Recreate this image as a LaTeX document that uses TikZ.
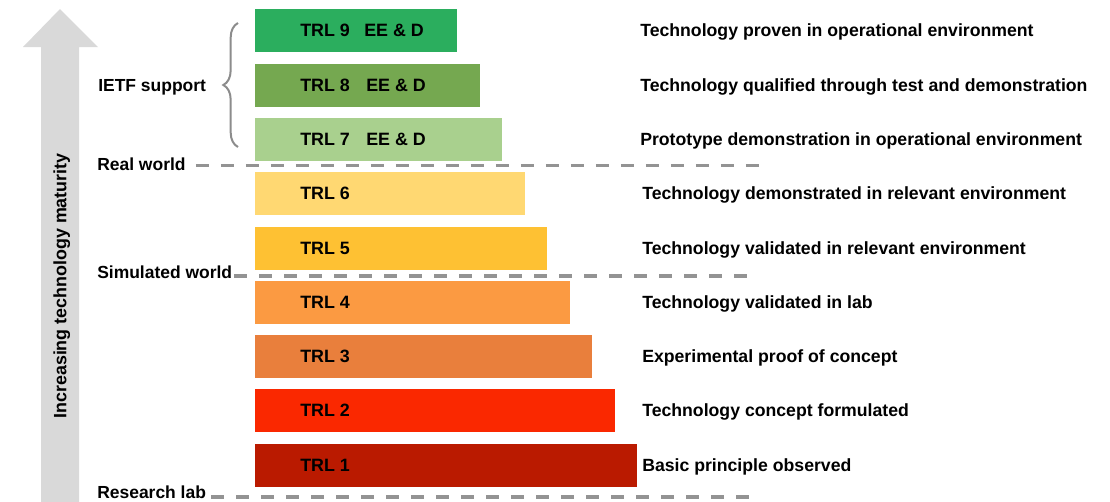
\documentclass[tikz,border=0pt]{standalone}
\usepackage{fontspec}
\setmainfont{Liberation Sans}
\usetikzlibrary{positioning}
\usetikzlibrary{decorations.pathreplacing}

\definecolor{trlNine}{HTML}{2BAE5E}
\definecolor{trlEight}{HTML}{75A850}
\definecolor{trlSeven}{HTML}{A9D08E}
\definecolor{trlSix}{HTML}{FFD872}
\definecolor{trlFive}{HTML}{FEC133}
\definecolor{trlFour}{HTML}{FB9A42}
\definecolor{trlThree}{HTML}{E97F3C}
\definecolor{trlTwo}{HTML}{FA2800}
\definecolor{trlOne}{HTML}{BA1A00}
\definecolor{arrowGray}{HTML}{D9D9D9}
\definecolor{lineGray}{HTML}{939393}
\definecolor{braceGray}{HTML}{8C8C8C}

\begin{document}
\begin{tikzpicture}[x = 0.75pt, y = -0.75pt]
	\tikzstyle{barStyle} = [anchor = west, minimum height = 32.25pt, inner sep = 0pt]
	\tikzstyle{trlStyle} = [anchor = west, inner sep = 0pt, text height = 9.5pt, text depth = 0pt, font = \bfseries\fontsize{13.4}{15}\selectfont]
	\tikzstyle{descStyle} = [anchor = west, inner sep = 0pt, text height = 9.4pt, text depth = 0pt, font = \bfseries\fontsize{13.25}{15}\selectfont]
	\tikzstyle{sideStyle} = [anchor = west, inner sep = 0pt, text height = 9.4pt, text depth = 0pt, font = \bfseries\fontsize{13.1}{15}\selectfont]
	\tikzstyle{worldLine} = [draw = lineGray, line width = 2.4pt, dash pattern = on 9.75pt off 9pt]
	\tikzstyle{braceStyle} = [draw = braceGray, line width = 1.5pt, decorate, decoration = {brace, amplitude = 11pt}]
	\useasboundingbox (0, 0) rectangle (1110, 501);
	% maturity arrow
	\fill[arrowGray] (41, 510) -- (41, 47) -- (23, 47) -- (60, 9) -- (98, 47) -- (79, 47) -- (79, 510) -- cycle;
	\node[sideStyle, anchor = center, rotate = 90, font = \bfseries\fontsize{13.4}{15}\selectfont] (maturity) at (60, 286) {Increasing technology maturity};
	% bars
	\node[barStyle, fill = trlNine, minimum width = 151.5pt] (bar9) at (255, 30.5) {};
	\node[barStyle, fill = trlEight, minimum width = 168.75pt] (bar8) at (255, 85) {};
	\node[barStyle, fill = trlSeven, minimum width = 185.25pt] (bar7) at (255, 139) {};
	\node[barStyle, fill = trlSix, minimum width = 202.5pt] (bar6) at (255, 193.5) {};
	\node[barStyle, fill = trlFive, minimum width = 219pt] (bar5) at (255, 248.5) {};
	\node[barStyle, fill = trlFour, minimum width = 236.25pt] (bar4) at (255, 302) {};
	\node[barStyle, fill = trlThree, minimum width = 252.75pt] (bar3) at (255, 356.5) {};
	\node[barStyle, fill = trlTwo, minimum width = 270pt] (bar2) at (255, 410.5) {};
	\node[barStyle, fill = trlOne, minimum width = 286.5pt] (bar1) at (255, 465) {};
	% bar labels
	\node[trlStyle] (trl9) at (300, 30.5) {TRL 9};
	\node[trlStyle] (eed9) at (364, 30.5) {EE \& D};
	\node[trlStyle] (trl8) at (300, 85) {TRL 8};
	\node[trlStyle] (eed8) at (366, 85) {EE \& D};
	\node[trlStyle] (trl7) at (300, 139) {TRL 7};
	\node[trlStyle] (eed7) at (366, 139) {EE \& D};
	\node[trlStyle] (trl6) at (300, 193.5) {TRL 6};
	\node[trlStyle] (trl5) at (300, 248.5) {TRL 5};
	\node[trlStyle] (trl4) at (300, 302) {TRL 4};
	\node[trlStyle] (trl3) at (300, 356.5) {TRL 3};
	\node[trlStyle] (trl2) at (300, 410.5) {TRL 2};
	\node[trlStyle] (trl1) at (300, 465) {TRL 1};
	% descriptions
	\node[descStyle] (desc9) at (640, 30.5) {Technology proven in operational environment};
	\node[descStyle] (desc8) at (640, 85) {Technology qualified through test and demonstration};
	\node[descStyle] (desc7) at (640, 139) {Prototype demonstration in operational environment};
	\node[descStyle] (desc6) at (642, 193.5) {Technology demonstrated in relevant environment};
	\node[descStyle] (desc5) at (642, 248.5) {Technology validated in relevant environment};
	\node[descStyle] (desc4) at (642, 302) {Technology validated in lab};
	\node[descStyle] (desc3) at (642, 356.5) {Experimental proof of concept};
	\node[descStyle] (desc2) at (642, 410.5) {Technology concept formulated};
	\node[descStyle] (desc1) at (642, 465) {Basic principle observed};
	% side labels
	\node[sideStyle] (ietf) at (98, 85) {IETF support};
	\node[sideStyle] (real) at (97, 164.5) {Real world};
	\node[sideStyle] (sim) at (97, 272) {Simulated world};
	\node[sideStyle] (lab) at (97, 492) {Research lab};
	\coordinate (braceBottom) at (238, 147);
	\coordinate (braceTop) at (238, 23);
	\draw[braceStyle] (braceBottom) -- (braceTop);
	% separators
	\coordinate (realEnd) at (759, 165.5);
	\coordinate (simEnd) at (753, 276);
	\coordinate (labEnd) at (757, 497);
	\draw[worldLine, shorten <= 7.5pt] (real.east |- realEnd) -- (realEnd);
	\draw[worldLine, shorten <= 1.5pt] (sim.east |- simEnd) -- (simEnd);
	\draw[worldLine, shorten <= 3.75pt] (lab.east |- labEnd) -- (labEnd);
\end{tikzpicture}
\end{document}
